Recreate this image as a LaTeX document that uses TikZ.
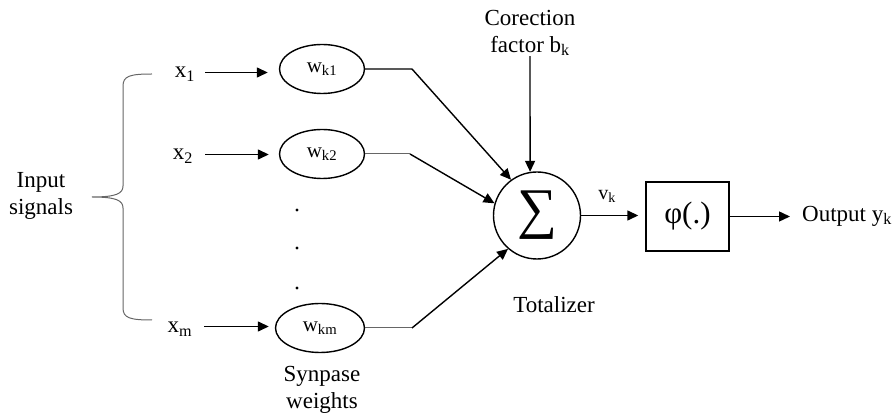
\documentclass[tikz,border=0pt]{standalone}
\usepackage{fontspec}
\setmainfont{Liberation Serif}
\usetikzlibrary{arrows.meta,shapes.geometric}
\begin{document}
\begin{tikzpicture}[x=1pt,y=-1pt,
  lbl/.style={font=\fontsize{23}{27}\selectfont, inner sep=0pt},
  wnode/.style={draw, ellipse, line width=1.4pt, minimum width=85pt, minimum height=49pt, inner sep=0pt, font=\fontsize{21}{25}\selectfont},
  arr/.style={line width=1.4pt, -{Triangle[length=11pt,width=10pt]}},
  ln/.style={line width=1.4pt},
  gln/.style={line width=1pt, draw=black!60},
]
\useasboundingbox (0,0) rectangle (895,419);

% input labels
\node[lbl, align=center] (inp) at (41,196) {Input\\signals};
\node[lbl, anchor=base] (x1) at (185,78) {x\textsubscript{1}};
\node[lbl, anchor=base] (x2) at (183,160) {x\textsubscript{2}};
\node[lbl, anchor=base] (xm) at (180,333) {x\textsubscript{m}};

% brace
\draw[gln] (152,74) .. controls (130,74) and (123,76) .. (123,86) -- (123,186)
  .. controls (123,194) and (115,197) .. (92,197)
  .. controls (115,197) and (123,200) .. (123,208) -- (123,308)
  .. controls (123,318) and (130,320) .. (152,320);

% weights
\node[wnode] (w1) at (322,69) {w\textsubscript{k1}};
\node[wnode] (w2) at (322,154) {w\textsubscript{k2}};
\node[wnode, minimum width=89pt] (wm) at (320,328) {w\textsubscript{km}};
\node[lbl, align=center] (syn) at (322,390) {Synpase\\weights};

\fill (297,210) circle (1.6pt);
\fill (297,248) circle (1.6pt);
\fill (297,288) circle (1.6pt);

% input arrows
\draw[arr, shorten <=10pt, shorten >=11pt] ([yshift=5.5pt]x1.base east) -- ([yshift=5.5pt]x1.base east -| w1.west);
\draw[arr, shorten <=12pt, shorten >=10pt] ([yshift=5.5pt]x2.base east) -- ([yshift=5.5pt]x2.base east -| w2.west);
\draw[arr, shorten <=12pt, shorten >=6pt] ([yshift=6.5pt]xm.base east) -- ([yshift=6.5pt]xm.base east -| wm.west);

% summation
\node[draw, circle, line width=1.4pt, minimum size=87pt, inner sep=0pt] (sum) at (537,215.5) {\fontsize{56}{56}\selectfont ∑};
\node[lbl] (tot) at (554,305) {Totalizer};

\coordinate (b1) at (412,69);
\coordinate (b2) at (410,154);
\coordinate (bm) at (412,328);
\draw[arr] (w1.east) -- (b1) -- (sum.126);
\draw[gln] (w2.east) -- (b2);
\draw[gln] (wm.east) -- (bm);
\draw[arr] (b2) -- (sum.164);
\draw[arr] (bm) -- (sum.229);

% correction
\node[lbl, align=center] (corr) at (530,33) {Corection\\factor b\textsubscript{k}};
\draw[arr] (corr.south) -- (sum.99);

% activation
\node[lbl, font=\fontsize{20}{24}\selectfont] (vk) at (607,196) {v\textsubscript{k}};
\node[draw, line width=1.4pt, minimum width=83pt, minimum height=69pt, inner sep=0pt] (phi) at (687.5,216.5) {\fontsize{31}{31}\selectfont φ(.)};
\draw[arr, shorten >=7pt] (sum.east) -- (sum.east -| phi.west);

\node[lbl, anchor=west] (out) at (802,216) {Output y\textsubscript{k}};
\draw[arr, shorten >=12pt] (phi.east) -- (phi.east -| out.west);
\end{tikzpicture}
\end{document}
